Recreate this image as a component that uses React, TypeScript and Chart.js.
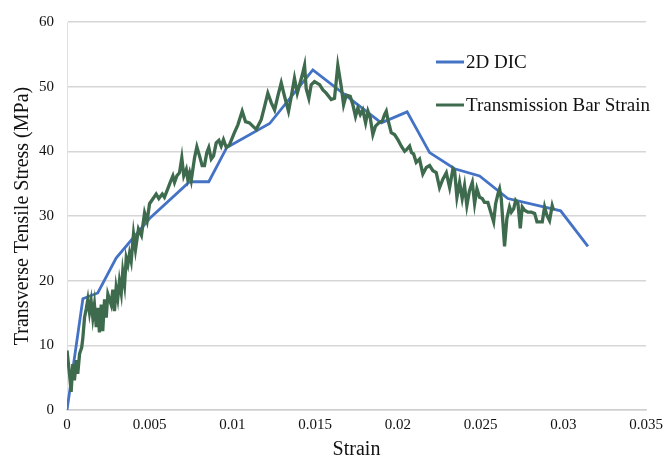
import React, { useEffect, useRef } from "react";
import { Chart, registerables } from "chart.js";

Chart.register(...registerables);

const seriesNames = ["2D DIC", "Transmission Bar Strain"];
const seriesColors = ["#4472C4", "#3E6B4D"];

const xTickLabels = ["0", "0.005", "0.01", "0.015", "0.02", "0.025", "0.03", "0.035"];

const dicStrain = [0, 0.00096, 0.00186, 0.00297, 0.00499, 0.00741, 0.00857, 0.00966, 0.01225, 0.01486, 0.019, 0.02056, 0.02192, 0.02343, 0.02494, 0.02665, 0.02984, 0.03149];
const dicStress = [0, 17.2, 18.1, 23.5, 29.6, 35.3, 35.3, 40.6, 44.3, 52.6, 44.4, 46.1, 39.8, 37.3, 36.2, 32.7, 30.8, 25.3];

const barStrain = [
  0, 0.00015, 0.00025, 0.00035, 0.00045, 0.00056, 0.00065, 0.00076, 0.00089, 0.00096,
  0.00106, 0.00116, 0.00126, 0.00136, 0.00146, 0.00156, 0.00166, 0.00177, 0.00186, 0.00196,
  0.00207, 0.00216, 0.00227, 0.00237, 0.00247, 0.00267, 0.00277, 0.00287, 0.00297, 0.00307,
  0.00317, 0.00328, 0.00337, 0.00348, 0.00358, 0.00368, 0.00378, 0.00388, 0.00402, 0.00414,
  0.00432, 0.0045, 0.00469, 0.00484, 0.00499, 0.00539, 0.00555, 0.00576, 0.00589, 0.00609,
  0.00624, 0.0064, 0.0065, 0.00664, 0.0068, 0.00694, 0.00706, 0.00721, 0.0073, 0.00741,
  0.00751, 0.00771, 0.00785, 0.00801, 0.00817, 0.00831, 0.00845, 0.00857, 0.00872, 0.00886,
  0.00902, 0.00918, 0.00932, 0.00946, 0.00963, 0.00982, 0.01012, 0.01033, 0.01059, 0.01079,
  0.01103, 0.01123, 0.01144, 0.01174, 0.01194, 0.01214, 0.01235, 0.01255, 0.01274, 0.01295,
  0.01315, 0.01339, 0.01356, 0.01375, 0.01392, 0.01406, 0.01422, 0.01436, 0.01446, 0.01462,
  0.01476, 0.01496, 0.01527, 0.01547, 0.01567, 0.01597, 0.01617, 0.01637, 0.01658, 0.01672,
  0.01688, 0.01712, 0.01728, 0.01744, 0.01758, 0.01773, 0.01788, 0.01805, 0.01819, 0.01833,
  0.01849, 0.01865, 0.01885, 0.01906, 0.0192, 0.0193, 0.0194, 0.0196, 0.0198, 0.02,
  0.02021, 0.02041, 0.02054, 0.02071, 0.02083, 0.02095, 0.02111, 0.02131, 0.02151, 0.02172,
  0.02192, 0.02212, 0.02232, 0.02252, 0.02272, 0.02293, 0.02313, 0.02333, 0.02343, 0.02357,
  0.02373, 0.02389, 0.02403, 0.02417, 0.02433, 0.0245, 0.02464, 0.02478, 0.02494, 0.0251,
  0.02524, 0.02544, 0.02579, 0.02591, 0.02605, 0.02615, 0.02625, 0.02645, 0.02659, 0.02675,
  0.02686, 0.027, 0.02712, 0.02726, 0.0274, 0.02752, 0.02766, 0.02786, 0.02807, 0.02827,
  0.02841, 0.02857, 0.02873, 0.02887, 0.02901, 0.02917, 0.02933, 0.02941
];
const barStress = [
  9.2, 5.6, 2.8, 7.1, 4.6, 7.7, 5.6, 8.7, 9.7, 11.2,
  14.3, 15.6, 17.1, 15.1, 16.8, 14.3, 16.3, 12.8, 15.8, 12.0,
  16.3, 12.2, 17.1, 14.3, 17.9, 16.3, 18.6, 15.3, 18.9, 17.3,
  19.9, 18.1, 21.4, 19.4, 23.5, 22.5, 24.2, 23.0, 27.2, 24.8,
  28.0, 27.0, 30.5, 29.2, 31.9, 33.4, 32.7, 33.4, 32.9, 34.2,
  35.2, 36.2, 35.2, 36.2, 36.7, 39.0, 36.2, 37.2, 35.7, 36.7,
  35.5, 39.0, 40.7, 39.3, 37.8, 37.8, 39.8, 40.6, 38.8, 39.3,
  41.3, 41.7, 40.8, 41.8, 40.6, 41.0, 42.9, 44.1, 46.2, 44.6,
  44.4, 43.9, 43.4, 44.9, 46.9, 49.0, 47.5, 46.4, 48.5, 50.6,
  48.5, 46.2, 48.5, 51.3, 49.0, 50.3, 51.8, 53.3, 49.7, 48.2,
  50.3, 50.8, 50.3, 49.5, 49.0, 48.0, 48.2, 53.3, 50.0, 47.2,
  48.7, 48.5, 47.2, 45.4, 46.7, 45.7, 46.4, 44.4, 46.2, 45.2,
  42.6, 43.9, 44.4, 44.7, 45.7, 46.2, 44.9, 42.9, 42.6, 41.8,
  40.8, 40.0, 40.3, 40.8, 39.8, 39.6, 38.3, 38.8, 36.5, 37.5,
  37.8, 37.0, 36.7, 34.4, 35.7, 36.7, 34.4, 37.3, 37.0, 32.9,
  35.2, 32.7, 34.7, 31.6, 33.9, 35.2, 31.9, 34.2, 32.9, 32.7,
  32.1, 32.1, 29.1, 31.9, 33.4, 34.2, 32.7, 25.3, 29.6, 31.4,
  30.6, 31.1, 32.4, 31.9, 28.1, 31.4, 30.9, 30.6, 30.6, 30.4,
  29.1, 29.1, 29.1, 31.4, 30.1, 29.3, 31.6, 30.9
];

const serif = '"Liberation Serif", "Times New Roman", serif';

const legendPlugin = {
  id: "customLegend",
  afterDraw(chart: any) {
    const ctx = chart.ctx;
    ctx.save();
    ctx.font = `19px ${serif}`;
    ctx.textBaseline = "middle";
    ctx.textAlign = "left";
    const rows = [62, 105];
    seriesNames.forEach((name, i) => {
      const y = rows[i];
      ctx.strokeStyle = seriesColors[i];
      ctx.lineWidth = 3;
      ctx.beginPath();
      ctx.moveTo(436, y);
      ctx.lineTo(464, y);
      ctx.stroke();
      ctx.fillStyle = "#111";
      ctx.fillText(name, 466, y + 1);
    });
    ctx.restore();
  },
};

export default function App() {
  const ref = useRef<HTMLCanvasElement | null>(null);
  useEffect(() => {
    document.body.style.margin = "0";
    const canvas = ref.current;
    if (!canvas) return;
    const chart = new Chart(canvas, {
      type: "line",
      data: {
        datasets: [
          {
            label: seriesNames[1],
            data: barStrain.map((x, i) => ({ x, y: barStress[i] })),
            borderColor: seriesColors[1],
            borderWidth: 3.3,
            pointRadius: 0,
            tension: 0,
            fill: false,
            order: 0,
          },
          {
            label: seriesNames[0],
            data: dicStrain.map((x, i) => ({ x, y: dicStress[i] })),
            borderColor: seriesColors[0],
            borderWidth: 2.8,
            pointRadius: 0,
            tension: 0,
            fill: false,
            order: 1,
          },
        ],
      },
      options: {
        animation: false,
        responsive: false,
        maintainAspectRatio: false,
        devicePixelRatio: 1,
        layout: { padding: { left: 0, right: 18, top: 18, bottom: 0 } },
        plugins: { legend: { display: false }, tooltip: { enabled: false } },
        scales: {
          x: {
            type: "linear",
            min: 0,
            max: 0.035,
            ticks: {
              stepSize: 0.005,
              padding: 6,
              color: "#111",
              font: { family: serif, size: 15 },
              callback: (_v: any, i: number) => xTickLabels[i],
              maxRotation: 0,
              autoSkip: false,
            },
            grid: { display: false, drawTicks: false },
            border: { display: true, color: "#cfcfcf", width: 1.5 },
            title: {
              display: true,
              text: "Strain",
              color: "#111",
              font: { family: serif, size: 20 },
              padding: { top: 0, bottom: 0 },
            },
            afterFit: (s: any) => {
              s.height = 52;
              s.paddingLeft = 0;
              s.paddingRight = 0;
            },
          },
          y: {
            type: "linear",
            min: 0,
            max: 60,
            ticks: {
              stepSize: 10,
              padding: 13,
              color: "#111",
              font: { family: serif, size: 15 },
            },
            grid: { color: "#d6d6d6", lineWidth: 1.5, drawTicks: false },
            border: { display: true, color: "#e0e0e0", width: 1 },
            title: {
              display: true,
              text: "Transverse Tensile Stress (MPa)",
              color: "#111",
              font: { family: serif, size: 20 },
              padding: { top: 11, bottom: 0 },
            },
            afterFit: (s: any) => {
              s.width = 67;
            },
          },
        },
      },
      plugins: [legendPlugin],
    });
    return () => chart.destroy();
  }, []);
  return (
    <div style={{ position: "absolute", left: 0, top: 0, width: 664, height: 462, background: "#fff" }}>
      <canvas ref={ref} width={664} height={462} />
    </div>
  );
}
